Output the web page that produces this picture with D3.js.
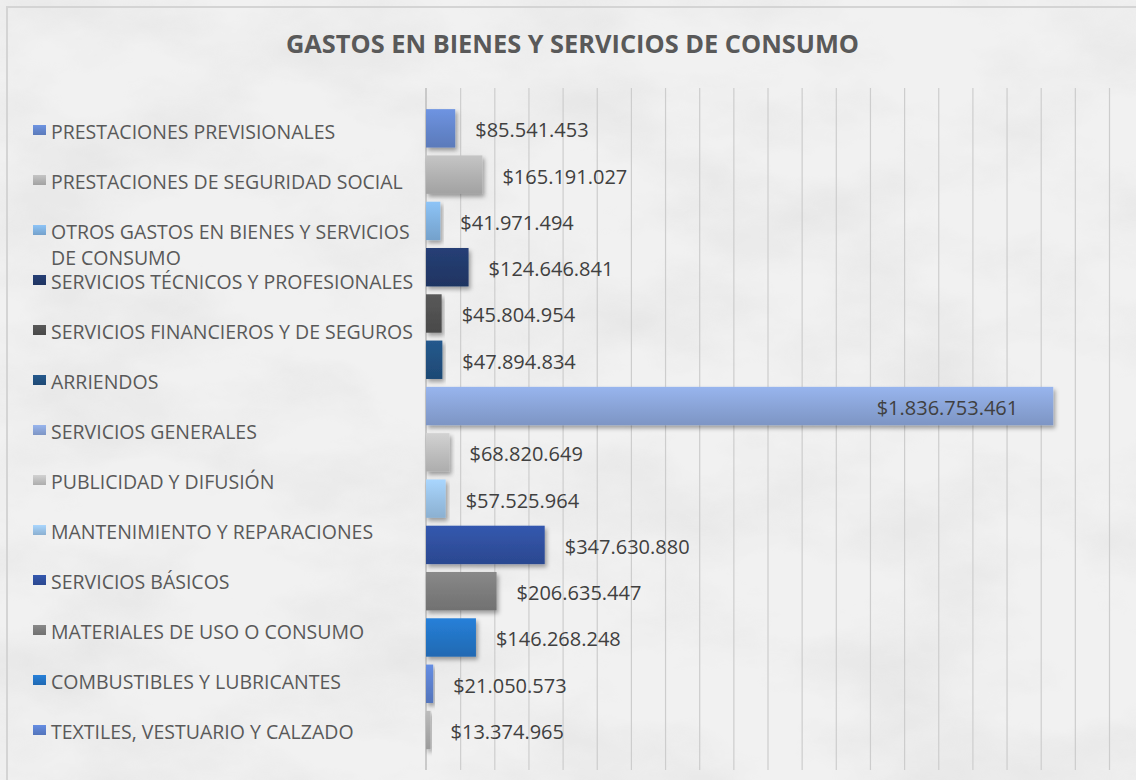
<!DOCTYPE html>
<html>
<head>
<meta charset="utf-8">
<script src="https://cdn.jsdelivr.net/npm/d3@7"></script>
<style>
  html, body { margin: 0; padding: 0; background: #f1f1f1; }
  svg { display: block; }
</style>
</head>
<body>
<div id="chart"></div>
<script>
// categories top to bottom (last one does not fit in the legend)
const categories = [
  "PRESTACIONES PREVISIONALES",
  "PRESTACIONES DE SEGURIDAD SOCIAL",
  "OTROS GASTOS EN BIENES Y SERVICIOS DE CONSUMO",
  "SERVICIOS TÉCNICOS Y PROFESIONALES",
  "SERVICIOS FINANCIEROS Y DE SEGUROS",
  "ARRIENDOS",
  "SERVICIOS GENERALES",
  "PUBLICIDAD Y DIFUSIÓN",
  "MANTENIMIENTO Y REPARACIONES",
  "SERVICIOS BÁSICOS",
  "MATERIALES DE USO O CONSUMO",
  "COMBUSTIBLES Y LUBRICANTES",
  "TEXTILES, VESTUARIO Y CALZADO",
  "ALIMENTOS Y BEBIDAS"
];
const values = [
  85541453, 165191027, 41971494, 124646841, 45804954, 47894834, 1836753461,
  68820649, 57525964, 347630880, 206635447, 146268248, 21050573, 13374965
];
const colors = [
  "#6385cb", "#b1b1b1", "#7fb0de", "#22396a", "#505050", "#21507f", "#89a3d6",
  "#bdbdbd", "#98c0e4", "#2f4f9d", "#7b7b7b", "#2373c3", "#5b7fcc", "#a9a9a9"
];
const xMax = 2000000000;
const tickStep = 100000000;

const width = 1136;
const height = 780;
const plot = { left: 426, right: 1109, top: 88, bottom: 770 };

const svg = d3.select("#chart").append("svg")
  .attr("width", width)
  .attr("height", height);

const defs = svg.append("defs");

// paper-like background texture
const tex = defs.append("filter").attr("id", "tex")
  .attr("x", 0).attr("y", 0).attr("width", "100%").attr("height", "100%");
tex.append("feTurbulence")
  .attr("type", "fractalNoise")
  .attr("baseFrequency", "0.006 0.011")
  .attr("numOctaves", 5)
  .attr("seed", 7);
tex.append("feColorMatrix")
  .attr("type", "matrix")
  .attr("values", "0 0 0 0 0.45  0 0 0 0 0.45  0 0 0 0 0.45  1.1 0 0 0 -0.45");

const shadow = defs.append("filter").attr("id", "shadow")
  .attr("x", "-10%").attr("y", "-20%").attr("width", "130%").attr("height", "160%");
shadow.append("feDropShadow")
  .attr("dx", 2).attr("dy", 3)
  .attr("stdDeviation", 2.2)
  .attr("flood-color", "#000")
  .attr("flood-opacity", 0.35);

colors.forEach((c, i) => {
  const g = defs.append("linearGradient")
    .attr("id", "grad" + i)
    .attr("x1", 0).attr("y1", 0).attr("x2", 0).attr("y2", 1);
  g.append("stop").attr("offset", "0%").attr("stop-color", d3.color(c).brighter(0.3));
  g.append("stop").attr("offset", "55%").attr("stop-color", c);
  g.append("stop").attr("offset", "100%").attr("stop-color", d3.color(c).darker(0.25));
});

svg.append("rect")
  .attr("width", width).attr("height", height)
  .attr("fill", "#f1f1f1");
svg.append("rect")
  .attr("width", width).attr("height", height)
  .attr("filter", "url(#tex)")
  .attr("opacity", 0.35);

// chart area border
svg.append("rect")
  .attr("x", 7).attr("y", 7)
  .attr("width", width + 20).attr("height", height + 20)
  .attr("fill", "none")
  .attr("stroke", "#d4d4d4")
  .attr("stroke-width", 2);

// Title
svg.append("text")
  .attr("x", 572.5)
  .attr("y", 53)
  .attr("text-anchor", "middle")
  .attr("textLength", 573)
  .attr("lengthAdjust", "spacingAndGlyphs")
  .style("font-family", "'Open Sans', sans-serif")
  .style("font-size", "25px")
  .style("font-weight", "700")
  .style("fill", "#595959")
  .text("GASTOS EN BIENES Y SERVICIOS DE CONSUMO");

// Scales
const x = d3.scaleLinear()
  .domain([0, xMax])
  .range([plot.left, plot.right]);

const y = d3.scaleBand()
  .domain(categories)
  .range([105.2, 753.2])
  .paddingInner(0.17)
  .paddingOuter(0.085);

// Gridlines
const grid = svg.append("g")
  .attr("transform", `translate(0,${plot.bottom})`)
  .call(d3.axisBottom(x)
    .tickValues(d3.range(tickStep, xMax + 1, tickStep))
    .tickSize(-(plot.bottom - plot.top))
    .tickFormat(""));
grid.select(".domain").remove();
grid.selectAll(".tick line")
  .attr("stroke", "#cdcdcd")
  .attr("stroke-width", 1.2);

// vertical category axis line
svg.append("line")
  .attr("x1", x(0)).attr("x2", x(0))
  .attr("y1", plot.top).attr("y2", plot.bottom)
  .attr("stroke", "#bcbcbc")
  .attr("stroke-width", 1.5);

// Bars
const rows = categories.map((c, i) => ({ cat: c, value: values[i], i }));

svg.append("g")
  .selectAll("rect")
  .data(rows)
  .join("rect")
  .attr("x", x(0))
  .attr("y", d => y(d.cat))
  .attr("width", d => x(d.value) - x(0))
  .attr("height", y.bandwidth())
  .attr("fill", d => `url(#grad${d.i})`)
  .attr("filter", "url(#shadow)");

// Value labels
const es = d3.formatLocale({ decimal: ",", thousands: ".", grouping: [3], currency: ["$", ""] });
const fmt = es.format("$,.0f");

svg.append("g")
  .selectAll("text")
  .data(rows)
  .join("text")
  .attr("x", d => x(d.value) > 900 ? x(d.value) - 35 : x(d.value) + 20)
  .attr("y", d => y(d.cat) + y.bandwidth() / 2 + 2)
  .attr("dy", "0.35em")
  .attr("text-anchor", d => x(d.value) > 900 ? "end" : "start")
  .style("font-family", "'Open Sans', sans-serif")
  .style("font-size", "20px")
  .style("fill", "#404040")
  .text(d => fmt(d.value));

// Legend (entries that do not fit are dropped)
const legend = svg.append("g");
const legendTop = 132;
const legendStep = 50;
const legendBottom = 760;
const maxLabel = 368;

rows.forEach((d, i) => {
  const cy = legendTop + i * legendStep;
  if (cy + 10 > legendBottom) return;
  const item = legend.append("g");
  item.append("rect")
    .attr("x", 33).attr("y", cy - 7)
    .attr("width", 13).attr("height", 10)
    .attr("fill", `url(#grad${d.i})`);
  const t = item.append("text")
    .attr("x", 51)
    .attr("y", cy + 7)
    .style("font-family", "'Open Sans', sans-serif")
    .style("font-size", "19.5px")
    .style("fill", "#595959");

  // simple word wrap
  const words = d.cat.split(" ");
  let line = [];
  let tspan = t.append("tspan").attr("x", 51);
  words.forEach(w => {
    line.push(w);
    tspan.text(line.join(" "));
    if (tspan.node().getComputedTextLength() > maxLabel && line.length > 1) {
      line.pop();
      tspan.text(line.join(" "));
      line = [w];
      tspan = t.append("tspan").attr("x", 51).attr("dy", 26).text(w);
    }
  });
});
</script>
</body>
</html>
